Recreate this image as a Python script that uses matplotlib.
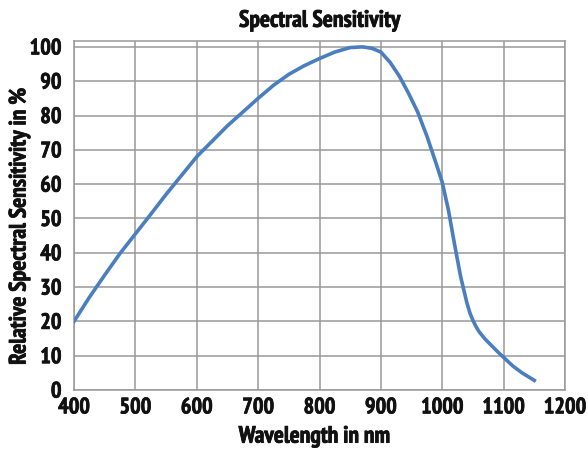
import matplotlib
matplotlib.use("Agg")
import matplotlib.pyplot as plt
import matplotlib.patheffects as pe

wavelength = [400, 425, 450, 475, 500, 525, 550, 575, 600, 625, 650, 675, 700,
              725, 750, 775, 800, 825, 850, 870, 885, 900, 915, 930, 945, 960,
              975, 990, 1000, 1010, 1020, 1030, 1040, 1045, 1050, 1055, 1060,
              1070, 1080, 1090, 1100, 1115, 1130, 1150]
sensitivity = [20, 27, 33.5, 39.8, 45.5, 51.2, 57, 62.5, 68, 72.5, 77, 81, 85,
               88.8, 92, 94.5, 96.6, 98.5, 99.8, 100, 99.6, 98.5, 95.5, 91.5,
               86.5, 81, 74, 66, 60.5, 52.5, 42.5, 33, 25.5, 22.5, 20.3, 18.5,
               17, 14.8, 13, 11.2, 9.5, 7, 5, 2.8]
xticks = list(range(400, 1201, 100))
yticks = list(range(0, 101, 10))

plt.rcParams['font.family'] = ['PT Sans Narrow', 'Roboto Condensed', 'DejaVu Sans']
plt.rcParams['font.weight'] = 'bold'
bold = [pe.withStroke(linewidth=0.55, foreground='#111111')]

fig = plt.figure(figsize=(5.88, 4.52), dpi=100)
ax = fig.add_axes([74/588, 1-391/452, (565-74)/588, (391-41.7)/452])

ax.plot(wavelength, sensitivity, color='#4a7ebf', lw=2.6, zorder=3)

ax.set_xlim(400, 1200)
ax.set_ylim(0, 101.8)
ax.set_xticks(xticks)
ax.set_yticks(yticks)
ax.grid(True, color='#999999', lw=1.1)
ax.set_axisbelow(True)
for s in ax.spines.values():
    s.set_color('#999999')
    s.set_linewidth(1.1)
ax.tick_params(length=0, labelsize=16, pad=9, labelcolor='#111111')
ax.tick_params(axis='x', pad=6)
for lab in ax.get_xticklabels() + ax.get_yticklabels():
    lab.set_fontweight('bold')
    lab.set_path_effects(bold)

xl = ax.set_xlabel('Wavelength in nm', fontsize=17, fontweight='bold', color='#111111')
yl = ax.set_ylabel('Relative Spectral Sensitivity in %', fontsize=17, fontweight='bold', color='#111111')
tl = ax.set_title('Spectral Sensitivity', fontsize=17, fontweight='bold', pad=10, color='#111111')
ax.xaxis.set_label_coords(0.489, -0.135)
xl.set_va('center')
ax.yaxis.set_label_coords(-0.11, 0.468)
yl.set_va('center')
for t in (xl, yl, tl):
    t.set_path_effects(bold)

fig.savefig('out.png', dpi=100)
